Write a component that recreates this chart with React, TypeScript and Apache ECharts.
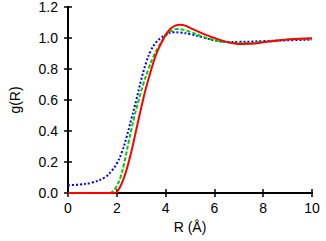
import React, { useEffect, useRef } from "react";
import * as echarts from "echarts";

const redR = [0, 1.9, 2.0, 2.2, 2.4, 2.6, 2.8, 3.0, 3.2, 3.4, 3.6, 3.8, 4.0, 4.2, 4.4, 4.6, 4.8, 5.0, 5.5, 6.0, 6.5, 7.0, 7.5, 8.0, 8.5, 9.0, 9.5, 10];
const redG = [0, 0, 0.005, 0.06, 0.15, 0.27, 0.41, 0.55, 0.68, 0.79, 0.89, 0.96, 1.02, 1.06, 1.08, 1.085, 1.08, 1.065, 1.03, 1.0, 0.975, 0.962, 0.963, 0.972, 0.983, 0.99, 0.995, 0.998];

const greenR = [0, 1.7, 1.85, 2.0, 2.15, 2.3, 2.5, 2.7, 2.9, 3.1, 3.3, 3.5, 3.7, 3.9, 4.1, 4.3, 4.45, 4.6, 4.8, 5.0, 5.5, 6.0, 6.5, 7.0, 7.5, 8.0, 8.5, 9.0, 10];
const greenG = [0, 0, 0.012, 0.045, 0.1, 0.19, 0.34, 0.48, 0.6, 0.71, 0.8, 0.88, 0.94, 0.99, 1.03, 1.05, 1.058, 1.056, 1.05, 1.04, 1.01, 0.985, 0.972, 0.967, 0.968, 0.975, 0.983, 0.99, 0.995];

const blueR = [0, 0.5, 1.0, 1.5, 1.8, 2.0, 2.2, 2.4, 2.6, 2.8, 3.0, 3.2, 3.4, 3.6, 3.8, 4.0, 4.3, 4.6, 5.0, 5.5, 6.0, 6.5, 7.0, 8.0, 9.0, 10];
const blueG = [0.05, 0.055, 0.068, 0.1, 0.145, 0.19, 0.26, 0.36, 0.48, 0.6, 0.73, 0.84, 0.92, 0.97, 1.0, 1.02, 1.037, 1.035, 1.025, 1.005, 0.985, 0.975, 0.975, 0.98, 0.985, 0.99];

const zip = (xs: number[], ys: number[]) => xs.map((x, i) => [x, ys[i]]);

const FONT = "Liberation Sans";

export default function App() {
  const ref = useRef<HTMLDivElement>(null);
  useEffect(() => {
    const chart = echarts.init(ref.current!, null, { renderer: "svg" });
    const axisLine = { show: true, lineStyle: { color: "#000", width: 2 } };
    const tick = { show: true, inside: true, length: 4, lineStyle: { color: "#000", width: 1.5 } };
    chart.setOption({
      animation: false,
      grid: { left: 65, right: 14, top: 7, bottom: 48 },
      xAxis: [
        {
          type: "value", min: 0, max: 10, interval: 2,
          axisLine, axisTick: tick, splitLine: { show: false },
          axisLabel: { color: "#000", fontSize: 14, fontFamily: FONT, margin: 8 },
          name: "R (Å)", nameLocation: "middle", nameGap: 27,
          nameTextStyle: { color: "#000", fontSize: 14, fontFamily: FONT },
        },
        {
          type: "value", min: 0, max: 10, interval: 2, position: "top",
          axisLine, axisTick: tick, splitLine: { show: false }, axisLabel: { show: false },
        },
      ],
      yAxis: [
        {
          type: "value", min: 0, max: 1.2, interval: 0.2,
          axisLine, axisTick: tick, splitLine: { show: false },
          axisLabel: { color: "#000", fontSize: 14, fontFamily: FONT, margin: 10, formatter: (v: number) => v.toFixed(1) },
          name: "g(R)", nameLocation: "middle", nameGap: 46,
          nameTextStyle: { color: "#000", fontSize: 14, fontFamily: FONT },
        },
        {
          type: "value", min: 0, max: 1.2, interval: 0.2, position: "right",
          axisLine, axisTick: tick, splitLine: { show: false }, axisLabel: { show: false },
        },
      ],
      series: [
        { type: "line", data: zip(blueR, blueG), smooth: 0.4, showSymbol: false, lineStyle: { color: "#0000ff", width: 2, type: [2, 2] } },
        { type: "line", data: zip(greenR, greenG), smooth: 0.4, showSymbol: false, lineStyle: { color: "#00cc00", width: 2, type: [4, 2] } },
        { type: "line", data: zip(redR, redG), smooth: 0.4, showSymbol: false, lineStyle: { color: "#ff0000", width: 2 } },
      ],
    });
    return () => chart.dispose();
  }, []);
  return <div ref={ref} style={{ width: 326, height: 241, position: "absolute", left: 0, top: 0 }} />;
}
